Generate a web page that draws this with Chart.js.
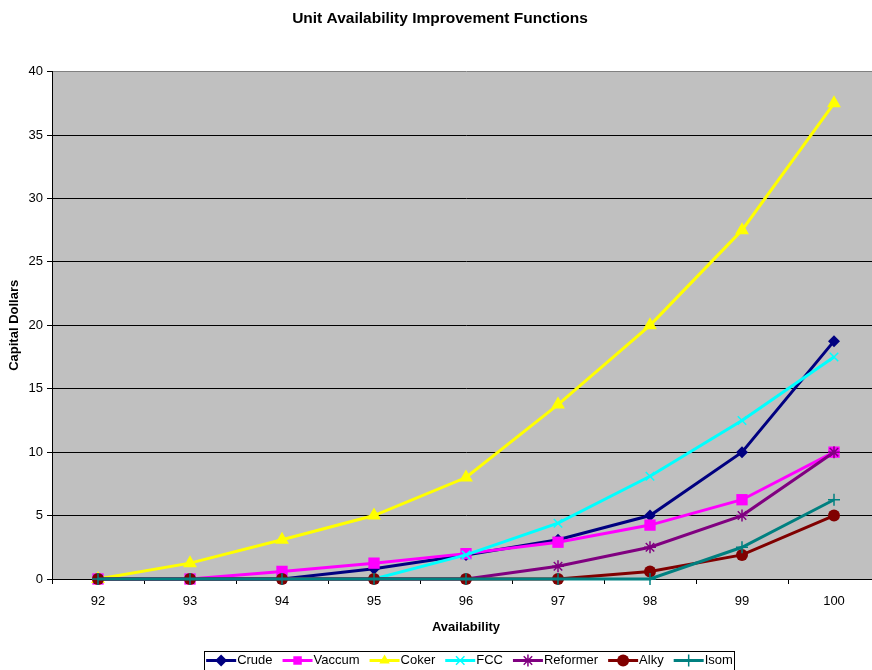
<!DOCTYPE html>
<html>
<head>
<meta charset="utf-8">
<title>Unit Availability Improvement Functions</title>
<script src="https://cdn.jsdelivr.net/npm/chart.js@4.4.1/dist/chart.umd.min.js"></script>
<style>
	html, body { margin: 0; padding: 0; background: #fff; overflow: hidden; }
	#myChart { display: block; width: 880px; height: 677px; }
</style>
</head>
<body>
<canvas id="myChart" width="880" height="677"></canvas>
<script>
	// data
	var categories = ['92', '93', '94', '95', '96', '97', '98', '99', '100'];
	var crude    = [0, 0, 0, 0.8, 1.9, 3.1, 5, 10, 18.75];
	var vaccum   = [0, 0, 0.6, 1.25, 2, 2.9, 4.25, 6.25, 10];
	var coker    = [0, 1.25, 3.1, 5, 8, 13.75, 20, 27.5, 37.5];
	var fcc      = [0, 0, 0, 0, 1.9, 4.4, 8.1, 12.5, 17.5];
	var reformer = [0, 0, 0, 0, 0, 1, 2.5, 5, 10];
	var alky     = [0, 0, 0, 0, 0, 0, 0.6, 1.9, 5];
	var isom     = [0, 0, 0, 0, 0, 0, 0, 2.5, 6.25];

	var seriesNames = ['Crude', 'Vaccum', 'Coker', 'FCC', 'Reformer', 'Alky', 'Isom'];
	var seriesData = [crude, vaccum, coker, fcc, reformer, alky, isom];
	var seriesColors = ['#000080', '#FF00FF', '#FFFF00', '#00FFFF', '#800080', '#800000', '#008080'];
	var seriesMarkers = ['rectRot', 'rect', 'triangle', 'crossRot', 'star', 'circle', 'cross'];
	var markerRadius = [6, 8, 8, 6, 6, 6, 6];

	Chart.defaults.font.family = 'Arial, "Liberation Sans", sans-serif';
	Chart.defaults.color = '#000';

	//vẽ marker nhỏ cho legend
	function drawMarker(ctx, style, r, x, y, color) {
		ctx.save();
		ctx.fillStyle = color;
		ctx.strokeStyle = color;
		ctx.lineWidth = 1.5;
		ctx.beginPath();
		if (style === 'rectRot') {
			ctx.moveTo(x, y - r); ctx.lineTo(x + r, y); ctx.lineTo(x, y + r); ctx.lineTo(x - r, y); ctx.closePath(); ctx.fill();
		} else if (style === 'rect') {
			var s = r * Math.SQRT1_2;
			ctx.rect(x - s, y - s, 2 * s, 2 * s); ctx.fill();
		} else if (style === 'triangle') {
			ctx.moveTo(x, y - r); ctx.lineTo(x + r * 0.87, y + r * 0.5); ctx.lineTo(x - r * 0.87, y + r * 0.5); ctx.closePath(); ctx.fill();
		} else if (style === 'circle') {
			ctx.arc(x, y, r, 0, Math.PI * 2); ctx.fill();
		} else {
			var d = r * 0.707;
			if (style === 'cross' || style === 'star') {
				ctx.moveTo(x, y - r); ctx.lineTo(x, y + r); ctx.moveTo(x - r, y); ctx.lineTo(x + r, y);
			}
			if (style === 'crossRot' || style === 'star') {
				ctx.moveTo(x - d, y - d); ctx.lineTo(x + d, y + d); ctx.moveTo(x + d, y - d); ctx.lineTo(x - d, y + d);
			}
			ctx.stroke();
		}
		ctx.restore();
	}

	var plotBackground = {
		id: 'plotBackground',
		beforeDraw: function (chart) {
			var a = chart.chartArea, ctx = chart.ctx;
			ctx.save();
			ctx.fillStyle = '#C0C0C0';
			ctx.fillRect(a.left, a.top, a.right - a.left, a.bottom - a.top);
			ctx.restore();
		}
	};

	// line + marker in each legend box, and a frame round the legend
	var legendSymbols = {
		id: 'legendSymbols',
		afterDraw: function (chart) {
			var boxes = chart.legend.legendHitBoxes, items = chart.legend.legendItems, ctx = chart.ctx;
			if (!boxes || !boxes.length) return;
			var minL = 1e9, maxR = -1e9;
			for (var i = 0; i < boxes.length; i++) {
				var b = boxes[i], k = items[i].datasetIndex;
				var y = b.top + b.height / 2;
				minL = Math.min(minL, b.left + 7);
				maxR = Math.max(maxR, b.left + b.width);
				ctx.save();
				ctx.strokeStyle = seriesColors[k];
				ctx.lineWidth = 3;
				ctx.beginPath();
				ctx.moveTo(b.left + 7, y);
				ctx.lineTo(b.left + 37, y);
				ctx.stroke();
				ctx.restore();
				drawMarker(ctx, seriesMarkers[k], Math.min(markerRadius[k], 6), b.left + 22, y, seriesColors[k]);
			}
			ctx.save();
			ctx.strokeStyle = '#000';
			ctx.lineWidth = 1;
			ctx.strokeRect(Math.round(minL - 2) + 0.5, Math.round(chart.legend.top) + 0.5, Math.round(maxR - minL + 3), chart.height - Math.round(chart.legend.top) - 1);
			ctx.restore();
		}
	};

	var datasets = [];
	for (var i = 0; i < seriesNames.length; i++) {
		datasets.push({
			label: seriesNames[i],
			data: seriesData[i],
			borderColor: seriesColors[i],
			backgroundColor: seriesColors[i],
			borderWidth: 3,
			tension: 0,
			pointStyle: seriesMarkers[i],
			pointRadius: markerRadius[i],
			pointBackgroundColor: seriesColors[i],
			pointBorderColor: seriesColors[i],
			pointBorderWidth: (seriesMarkers[i] === 'cross' || seriesMarkers[i] === 'crossRot' || seriesMarkers[i] === 'star') ? 1.5 : 0,
			order: seriesNames.length - i,
			clip: false
		});
	}

	new Chart(document.getElementById('myChart'), {
		type: 'line',
		data: { labels: categories, datasets: datasets },
		options: {
			responsive: false,
			animation: false,
			layout: { padding: 0, autoPadding: false },
			plugins: {
				tooltip: { enabled: false },
				title: {
					display: true,
					text: 'Unit Availability Improvement Functions',
					font: { size: 15.5, weight: 'bold' },
					padding: { top: 9, bottom: 44 }
				},
				legend: {
					position: 'bottom',
					fullSize: false,
					labels: {
						boxWidth: 31.5,
						boxHeight: 13,
						padding: 3,
						font: { size: 13 },
						sort: function (a, b) { return a.datasetIndex - b.datasetIndex; },
						generateLabels: function (chart) {
							var items = Chart.defaults.plugins.legend.labels.generateLabels(chart);
							items.forEach(function (it) {
								it.fillStyle = 'rgba(0,0,0,0)';
								it.strokeStyle = 'rgba(0,0,0,0)';
								it.lineWidth = 0;
							});
							return items;
						}
					}
				}
			},
			scales: {
				x: {
					offset: true,
					grid: { offset: true, drawOnChartArea: false, drawTicks: true, tickLength: 5, tickColor: '#000' },
					border: { color: '#000', width: 1 },
					ticks: { padding: 10, font: { size: 13 }, maxRotation: 0 },
					title: { display: true, text: 'Availability', font: { size: 13, weight: 'bold' }, padding: { top: 4, bottom: 16 } },
					afterFit: function (scale) {
						scale.height = 72;
						scale.paddingLeft = 0;
						scale.paddingRight = 0;
					}
				},
				y: {
					min: 0,
					max: 40,
					ticks: { stepSize: 5, padding: 4, font: { size: 13 } },
					grid: {
						color: function (c) { return c.tick && c.tick.value === 40 ? '#808080' : '#000'; },
						lineWidth: 1,
						tickLength: 5,
						tickColor: '#000'
					},
					border: { color: '#000', width: 1 },
					title: { display: true, text: 'Capital Dollars', font: { size: 13, weight: 'bold' }, padding: { top: 7, bottom: 0 } },
					afterFit: function (scale) { scale.width = 52; }
				}
			}
		},
		plugins: [plotBackground, legendSymbols]
	});
</script>
</body>
</html>
